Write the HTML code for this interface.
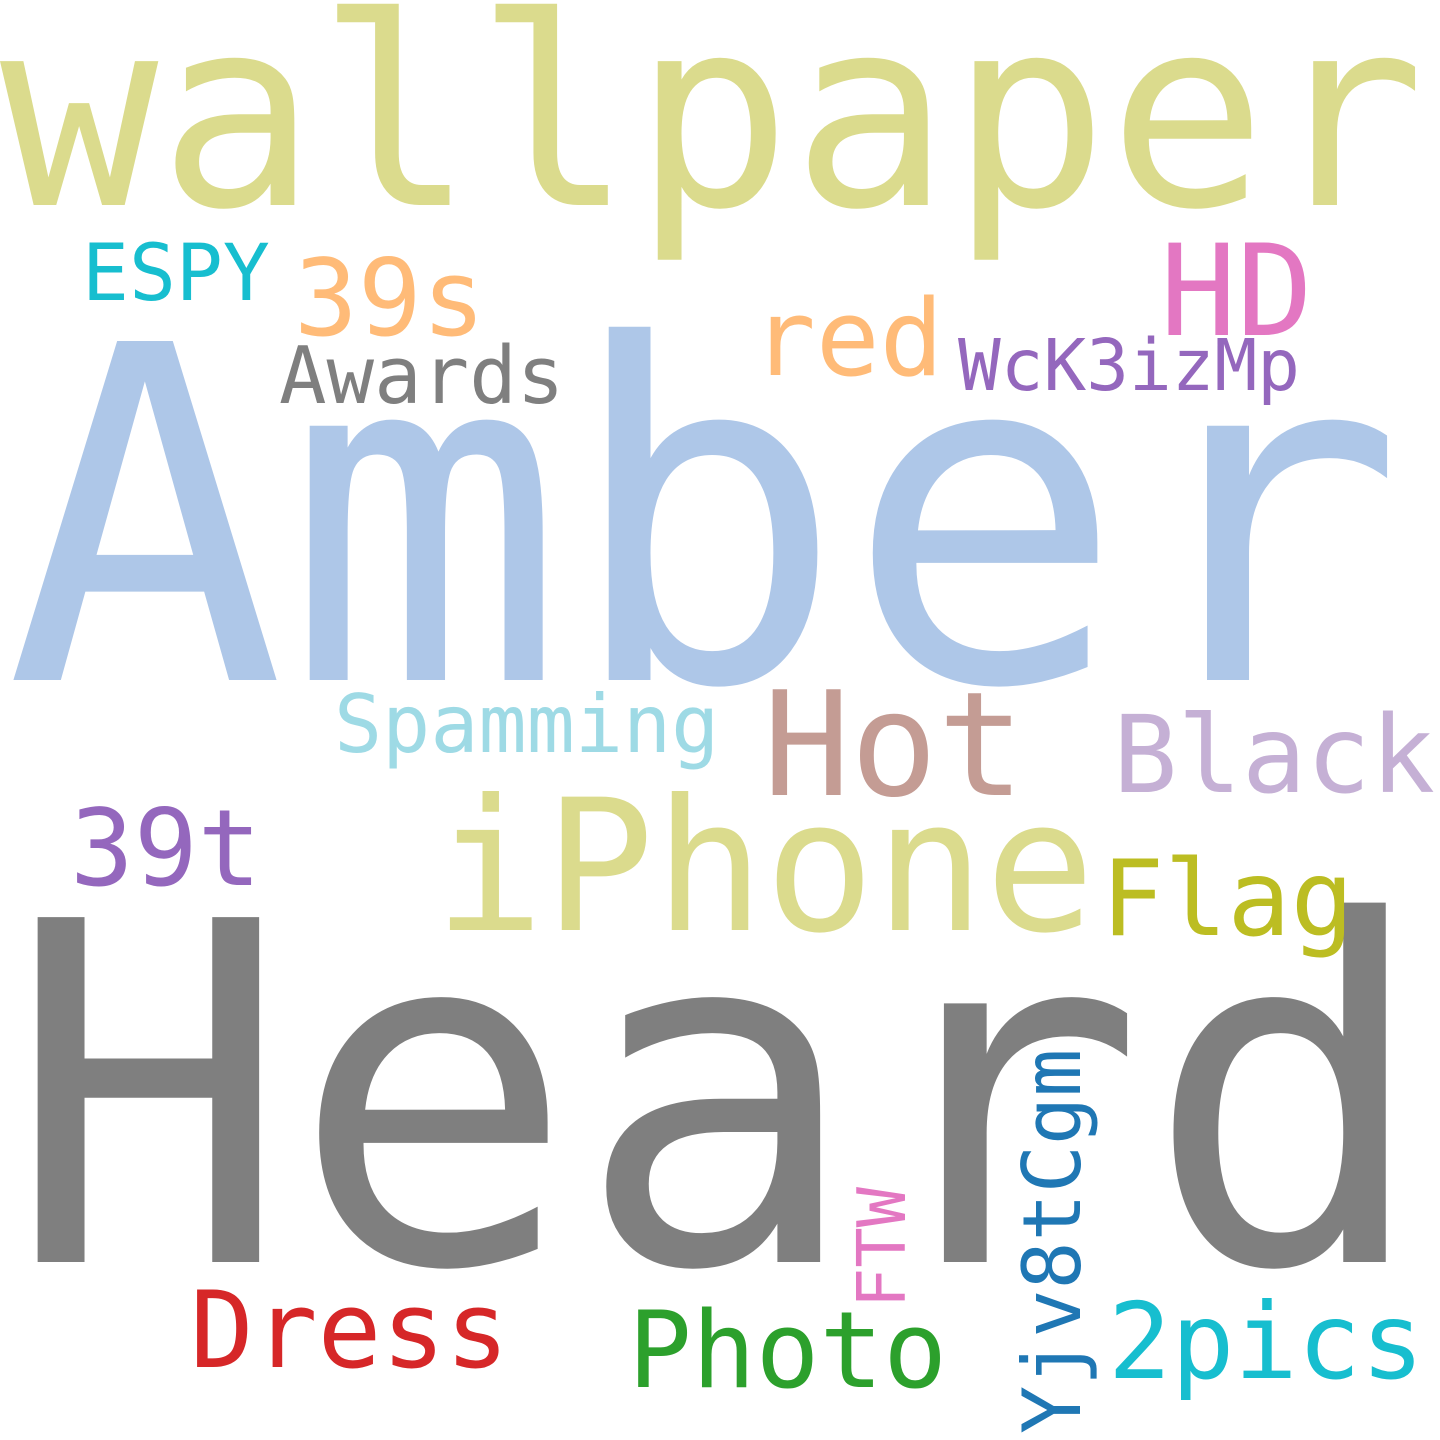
<!DOCTYPE html>
<html><head><meta charset="utf-8"><style>
html,body{margin:0;padding:0;background:#fff;}
svg{display:block;}
text{font-family:"DejaVu Sans Mono","Liberation Mono",monospace;}
</style></head><body>
<svg width="1440" height="1440" viewBox="0 0 1440 1440">
<rect width="1440" height="1440" fill="#fff"/>
<text x="0" y="205" font-size="263" fill="#dbdb8d">wallpaper</text>
<text x="5" y="680" font-size="465" fill="#aec7e8">Amber</text>
<text x="6" y="1262" font-size="473" fill="#7f7f7f">Heard</text>
<text x="434" y="930" font-size="183" fill="#dbdb8d">iPhone</text>
<text x="763" y="795" font-size="145" fill="#c49c94">Hot</text>
<text x="1113" y="792" font-size="107" fill="#c5b0d5">Black</text>
<text x="334" y="752" font-size="80" fill="#9edae5">Spamming</text>
<text x="70" y="885" font-size="106" fill="#9467bd">39t</text>
<text x="1101" y="935" font-size="105" fill="#bcbd22">Flag</text>
<text x="82" y="300" font-size="78" fill="#17becf">ESPY</text>
<text x="294" y="335" font-size="106" fill="#ffbb78">39s</text>
<text x="1160" y="335" font-size="127" fill="#e377c2">HD</text>
<text x="752" y="375" font-size="106" fill="#ffbb78">red</text>
<text x="279" y="403" font-size="79" fill="#7f7f7f">Awards</text>
<text x="958" y="390" font-size="71" fill="#9467bd">WcK3izMp</text>
<text x="190" y="1367" font-size="106" fill="#d62728">Dress</text>
<text x="628" y="1387" font-size="106" fill="#2ca02c">Photo</text>
<text x="1108" y="1378" font-size="105" fill="#17becf">2pics</text>
<text transform="translate(1080,1434) rotate(-90)" font-size="80" fill="#1f77b4">Yjv8tCgm</text>
<text transform="translate(905,1308) rotate(-90)" font-size="67" fill="#e377c2">FTW</text>
</svg>
</body></html>
